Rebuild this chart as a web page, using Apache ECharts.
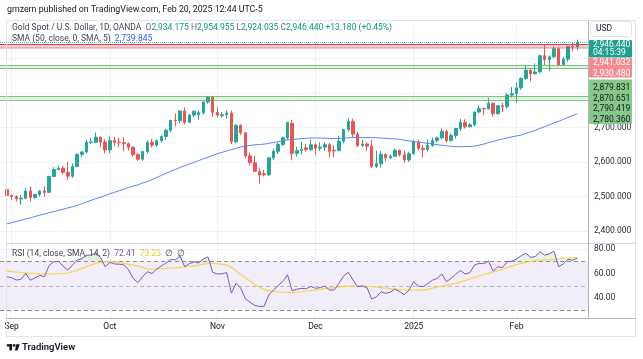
<!DOCTYPE html>
<html>
<head>
<meta charset="utf-8">
<script src="https://cdn.jsdelivr.net/npm/echarts@6.0.0/dist/echarts.min.js"></script>
<style>
html,body{margin:0;padding:0;background:#ffffff;}
#chart{width:643px;height:359px;}
</style>
</head>
<body>
<div id="chart"></div>
<script>
const FONT = 'Roboto, "Noto Sans", "Liberation Sans", sans-serif';
const TXT = '#131722';
const UP = '#26a69a', DOWN = '#ef5350';

// ---------- data ----------
const padBefore = ['2024-08-29'];
const padAfter = ['2025-02-21', '2025-02-24'];
const tradingDays = [
'2024-08-30',
'2024-09-02','2024-09-03','2024-09-04','2024-09-05','2024-09-06',
'2024-09-09','2024-09-10','2024-09-11','2024-09-12','2024-09-13',
'2024-09-16','2024-09-17','2024-09-18','2024-09-19','2024-09-20',
'2024-09-23','2024-09-24','2024-09-25','2024-09-26','2024-09-27',
'2024-09-30','2024-10-01','2024-10-02','2024-10-03','2024-10-04',
'2024-10-07','2024-10-08','2024-10-09','2024-10-10','2024-10-11',
'2024-10-14','2024-10-15','2024-10-16','2024-10-17','2024-10-18',
'2024-10-21','2024-10-22','2024-10-23','2024-10-24','2024-10-25',
'2024-10-28','2024-10-29','2024-10-30','2024-10-31','2024-11-01',
'2024-11-04','2024-11-05','2024-11-06','2024-11-07','2024-11-08',
'2024-11-11','2024-11-12','2024-11-13','2024-11-14','2024-11-15',
'2024-11-18','2024-11-19','2024-11-20','2024-11-21','2024-11-22',
'2024-11-25','2024-11-26','2024-11-27','2024-11-28','2024-11-29',
'2024-12-02','2024-12-03','2024-12-04','2024-12-05','2024-12-06',
'2024-12-09','2024-12-10','2024-12-11','2024-12-12','2024-12-13',
'2024-12-16','2024-12-17','2024-12-18','2024-12-19','2024-12-20',
'2024-12-23','2024-12-24','2024-12-26','2024-12-27',
'2024-12-30','2024-12-31','2025-01-02','2025-01-03',
'2025-01-06','2025-01-07','2025-01-08','2025-01-09','2025-01-10',
'2025-01-13','2025-01-14','2025-01-15','2025-01-16','2025-01-17',
'2025-01-20','2025-01-21','2025-01-22','2025-01-23','2025-01-24',
'2025-01-27','2025-01-28','2025-01-29','2025-01-30','2025-01-31',
'2025-02-03','2025-02-04','2025-02-05','2025-02-06','2025-02-07',
'2025-02-10','2025-02-11','2025-02-12','2025-02-13','2025-02-14',
'2025-02-17','2025-02-18','2025-02-19','2025-02-20'
];

const opens = [
2520,2503,2500,2493,2495,2516,2497,2506,2516,2512,
2558,2578,2582,2570,2559,2587,2622,2629,2657,2657,
2672,2658,2635,2662,2657,2656,2653,2643,2622,2608,
2630,2657,2649,2662,2674,2692,2721,2720,2748,2715,
2736,2737,2743,2774,2788,2744,2734,2737,2742,2659,
2706,2685,2618,2598,2572,2566,2563,2612,2631,2651,
2670,2712,2625,2633,2641,2636,2650,2640,2643,2650,
2634,2633,2660,2694,2718,2681,2648,2652,2646,2587,
2595,2622,2612,2617,2634,2621,2606,2624,2658,2640,
2636,2648,2662,2670,2689,2662,2677,2697,2715,2702,
2708,2745,2755,2754,2770,2740,2763,2760,2794,2798,
2815,2842,2866,2856,2861,2908,2897,2905,2928,2882,
2898,2935,2934.175
];
const highs = [
2524,2506,2503,2504,2524,2529,2507,2518,2529,2560,
2585,2590,2589,2600,2596,2625,2632,2664,2670,2685,
2674,2666,2674,2672,2670,2672,2657,2646,2625,2633,
2661,2666,2665,2677,2696,2722,2740,2749,2758,2739,
2749,2749,2774,2790,2790,2758,2745,2750,2749,2710,
2709,2687,2627,2618,2581,2577,2615,2639,2656,2674,
2716,2722,2644,2658,2652,2665,2654,2657,2657,2655,
2649,2676,2696,2726,2725,2687,2664,2657,2664,2633,
2632,2625,2622,2639,2636,2634,2630,2664,2665,2649,
2665,2671,2674,2697,2693,2683,2699,2725,2724,2713,
2746,2763,2758,2786,2773,2765,2771,2799,2817,2831,
2845,2882,2871,2886,2911,2942,2909,2935,2932,2905,
2938,2947,2954.955
];
const lows = [
2493,2489,2486,2476,2492,2485,2493,2500,2500,2510,
2556,2576,2563,2547,2554,2585,2614,2624,2652,2655,
2643,2625,2625,2646,2643,2631,2633,2615,2604,2603,
2625,2642,2644,2656,2664,2686,2703,2712,2709,2714,
2730,2722,2738,2769,2730,2730,2728,2725,2652,2655,
2678,2610,2590,2572,2537,2558,2560,2606,2623,2646,
2665,2605,2615,2622,2630,2632,2621,2632,2632,2614,
2613,2631,2654,2688,2672,2644,2643,2631,2583,2583,
2584,2601,2609,2614,2616,2597,2600,2622,2633,2614,
2630,2644,2656,2665,2656,2660,2668,2690,2697,2700,
2703,2741,2736,2752,2731,2737,2745,2755,2787,2772,
2809,2838,2834,2853,2859,2880,2864,2900,2877,2880,
2890,2922,2924.035
];
const closes = [
2503,2500,2493,2495,2516,2497,2506,2516,2512,2558,
2578,2582,2570,2559,2587,2622,2629,2657,2658,2672,
2658,2635,2662,2657,2656,2653,2643,2622,2608,2630,
2657,2649,2662,2674,2692,2721,2720,2748,2715,2736,
2747,2743,2774,2788,2744,2736,2737,2742,2659,2706,
2685,2618,2598,2573,2562,2563,2612,2631,2651,2670,
2715,2625,2633,2637,2636,2650,2640,2643,2650,2631,
2632,2660,2694,2718,2681,2648,2652,2646,2587,2595,
2622,2612,2617,2634,2621,2606,2624,2658,2640,2636,
2648,2662,2670,2689,2662,2677,2697,2715,2702,2708,
2745,2755,2754,2770,2740,2763,2760,2794,2798,2815,
2842,2866,2856,2861,2908,2897,2905,2928,2882,2898,
2935,2933.26,2946.44
];
const sma50 = [
2421,2424,2428,2431,2435,2438,2442,2446,2449,2453,
2456,2460,2463,2467,2470,2474,2479,2484,2489,2494,
2498,2503,2508,2512,2517,2521,2526,2530,2534,2539,
2543,2549,2555,2561,2567,2573,2578,2584,2589,2594,
2599,2604,2609,2614,2619,2624,2628,2632,2636,2640,
2643.7,2646,2648.1,2649.7,2650.6,2651.9,2654.1,2656.4,2659.1,2661.4,
2664.1,2665,2666.3,2667.8,2668.8,2669.4,2669.6,2669.3,2669.2,2668.4,
2667.8,2668.3,2669,2670.2,2670.7,2670.6,2670.7,2671.2,2670.8,2670.1,
2669.4,2668.6,2667.7,2666.9,2665.5,2663.2,2661.3,2659.5,2658,2656,
2654,2652.4,2650.3,2648.3,2646.7,2645.5,2644.7,2644.1,2645,2645,
2646.2,2648.9,2652,2656,2659.5,2663.5,2666.5,2669.8,2672.7,2675.6,
2678.1,2683,2687.4,2691.9,2697.4,2702.3,2707.6,2713.3,2717.9,2723.3,
2729.3,2734.8,2739.845
];
const rsi = [
57.4,56.5,54.7,55.2,60.1,54.5,56.5,58.5,57.4,66.5,
69.5,70.0,66.0,62.8,66.9,71.0,72.0,75.0,75.0,77.0,
73.0,65.6,69.0,67.8,67.6,67.0,63.0,56.0,52.5,57.4,
61.5,60.0,63.5,66.1,68.5,71.6,71.2,74.3,65.6,68.0,
69.5,68.6,72.0,73.5,61.0,59.6,59.8,60.7,44.0,52.0,
48.0,39.5,36.5,34.0,33.0,33.3,42.5,46.5,50.0,53.5,
59.0,46.0,47.2,47.8,47.5,49.5,47.9,48.5,49.8,46.5,
46.6,52.0,58.0,61.0,54.7,49.2,49.8,48.5,39.2,40.8,
45.1,43.8,44.8,47.3,45.1,42.8,46.5,53.3,49.8,49.2,
51.8,54.5,56.0,59.6,53.3,56.1,59.5,62.5,59.6,60.6,
66.9,68.3,68.0,70.0,62.0,65.5,64.8,69.5,70.0,72.0,
74.5,76.5,73.2,73.8,77.8,75.0,75.9,78.4,65.6,67.8,
71.6,71.0,72.41
];
const rsiMa = [
62.0,61.6,61.2,60.8,60.5,60.2,59.9,59.7,59.6,59.6,
59.7,59.8,60.0,60.3,61.5,62.8,64.2,65.6,67.0,68.3,
69.1,69.4,69.6,69.3,68.8,68.2,67.5,66.9,66.0,65.0,
63.8,63.4,63.5,63.8,64.2,64.5,64.7,65.0,65.3,65.7,
66.3,66.9,67.6,68.2,68.3,68.0,67.5,66.9,65.0,62.0,
59.2,56.5,53.8,51.0,48.8,47.0,46.0,45.3,45.0,44.8,
44.7,44.6,44.8,45.1,45.5,46.0,46.5,47.0,47.6,48.0,
48.5,49.0,49.5,49.8,49.9,49.9,49.8,49.6,49.3,48.9,
48.5,48.1,47.7,47.2,46.9,46.7,46.5,46.4,46.4,46.5,
47.0,48.0,49.0,49.8,50.5,51.2,52.0,53.1,54.2,55.5,
56.8,58.0,59.2,60.1,61.2,62.3,63.5,64.8,66.0,67.2,
68.3,69.1,69.8,70.5,70.8,71.1,71.3,71.6,71.9,72.3,
72.6,72.9,73.23
];
const monthLabels = {
  '2024-09-02':'Sep','2024-10-01':'Oct','2024-11-01':'Nov',
  '2024-12-02':'Dec','2025-01-02':'2025','2025-02-03':'Feb'
};
const priceTicks = [2400, 2500, 2600, 2700];
const priceGridLevels = [2400, 2500, 2600, 2700, 2800, 2900];
const rsiTicks = [40, 60, 80];
const resistanceZone = [2930.480, 2941.032];
const supportZones = [[2870.651, 2879.831], [2780.360, 2790.419]];
const rsiBands = [70, 50, 30];
const countdown = '04:15:39';

// ---------- helpers ----------
const nf = (v, d) => v.toLocaleString('en-US', {minimumFractionDigits: d, maximumFractionDigits: d});
const categories = padBefore.concat(tradingDays, padAfter);
const lead = padBefore.map(() => '-');
const candleData = lead.concat(tradingDays.map((d, i) => [opens[i], closes[i], lows[i], highs[i]]));
const monthKeys = Object.keys(monthLabels);
const priceMin = 2300, priceMax = 3000, rsiMin = 20, rsiMax = 90;
const pricePane = [2365.2, 3000], rsiPane = [23.7, 84.9];
const lastIdx = closes.length - 1;
const lastClose = closes[lastIdx];
const chg = closes[lastIdx] - closes[lastIdx - 1];
const chgPct = chg / closes[lastIdx - 1] * 100;
const sign = chg >= 0 ? '+' : '';

const ML = {silent: true, symbol: ['none', 'none'], label: {show: false}, emphasis: {disabled: true}, animation: false};

const zoneLine = (v, color, w) => ({yAxis: v, lineStyle: {color: color, width: w, type: 'solid'}});

const option = {
  animation: false,
  backgroundColor: '#ffffff',
  textStyle: {fontFamily: FONT},
  grid: [
    {left: 0, top: 24, width: 589, height: 241.5},
    {left: 0, top: 236.75, width: 589, height: 85.75}
  ],
  xAxis: [
    {type: 'category', gridIndex: 0, data: categories, boundaryGap: true, show: false},
    {type: 'category', gridIndex: 1, data: categories, boundaryGap: true,
     axisLine: {show: false}, axisTick: {show: false}, splitLine: {show: false},
     axisLabel: {interval: (i, v) => monthLabels.hasOwnProperty(v), formatter: v => monthLabels[v] || '',
                 color: TXT, fontSize: 8.5, fontFamily: FONT, margin: 0}}
  ],
  yAxis: [
    {type: 'value', gridIndex: 0, position: 'right', min: priceMin, max: priceMax, interval: 100,
     axisLine: {show: false}, axisTick: {show: false}, splitLine: {show: false},
     axisLabel: {margin: 5, color: '#2a2e39', fontSize: 8.5, fontFamily: FONT,
                 formatter: v => priceTicks.includes(v) ? nf(v, 3) : ''}},
    {type: 'value', gridIndex: 1, position: 'right', min: rsiMin, max: rsiMax, interval: 10,
     axisLine: {show: false}, axisTick: {show: false}, splitLine: {show: false},
     axisLabel: {margin: 5, color: '#2a2e39', fontSize: 8.5, fontFamily: FONT,
                 formatter: v => rsiTicks.includes(v) ? v.toFixed(2) : ''}}
  ],
  series: [
    {
      name: 'SMA 50', type: 'line', xAxisIndex: 0, yAxisIndex: 0, data: lead.concat(sma50),
      showSymbol: false, symbol: 'none', z: 3, silent: true,
      lineStyle: {color: '#5a85ff', width: 1},
      markLine: Object.assign({}, ML, {z: 1,
        lineStyle: {color: '#eef0f5', width: 1, type: 'solid'},
        data: priceGridLevels.map(v => ({yAxis: v})).concat(
          monthKeys.map(d => [{coord: [d, pricePane[0]]}, {coord: [d, pricePane[1]]}]))
      })
    },
    {
      name: 'XAUUSD', type: 'candlestick', xAxisIndex: 0, yAxisIndex: 0, data: candleData,
      barWidth: 3, z: 2, silent: true,
      itemStyle: {color: UP, color0: DOWN, borderColor: UP, borderColor0: DOWN, borderWidth: 1},
      markArea: {silent: true, z: 4, label: {show: false},
        data: [
          [{yAxis: resistanceZone[0], itemStyle: {color: 'rgba(242,54,69,0.2)'}}, {yAxis: resistanceZone[1]}],
          [{yAxis: supportZones[0][0], itemStyle: {color: 'rgba(76,175,80,0.16)'}}, {yAxis: supportZones[0][1]}],
          [{yAxis: supportZones[1][0], itemStyle: {color: 'rgba(76,175,80,0.16)'}}, {yAxis: supportZones[1][1]}]
        ]},
      markLine: Object.assign({}, ML, {z: 5,
        data: [
          zoneLine(resistanceZone[1], '#f23645', 1),
          zoneLine(resistanceZone[0], 'rgba(242,54,69,0.4)', 1.5),
          zoneLine(supportZones[0][0], 'rgba(76,175,80,0.7)', 1),
          zoneLine(supportZones[0][1], 'rgba(76,175,80,0.7)', 1),
          zoneLine(supportZones[1][0], 'rgba(76,175,80,0.7)', 1),
          zoneLine(supportZones[1][1], 'rgba(76,175,80,0.7)', 1),
          {yAxis: lastClose, lineStyle: {color: UP, width: 1, type: 'dotted', opacity: 0.8}}
        ]})
    },
    {
      name: 'obBase', type: 'line', xAxisIndex: 1, yAxisIndex: 1, stack: 'ob', silent: true,
      data: lead.concat(rsi.map(() => rsiBands[0])), symbol: 'none', showSymbol: false,
      lineStyle: {opacity: 0}, z: 1
    },
    {
      name: 'obFill', type: 'line', xAxisIndex: 1, yAxisIndex: 1, stack: 'ob', silent: true,
      data: lead.concat(rsi.map(v => Math.max(v - rsiBands[0], 0))), symbol: 'none', showSymbol: false,
      lineStyle: {opacity: 0}, areaStyle: {color: 'rgba(76,175,80,0.22)'}, z: 1
    },
    {
      name: 'RSI', type: 'line', xAxisIndex: 1, yAxisIndex: 1, data: lead.concat(rsi),
      symbol: 'none', showSymbol: false, silent: true, z: 4,
      lineStyle: {color: '#7e57c2', width: 1},
      markArea: {silent: true, z: 0, label: {show: false},
        data: [[{yAxis: rsiBands[2], itemStyle: {color: 'rgba(126,87,194,0.1)'}}, {yAxis: rsiBands[0]}]]}
    },
    {
      name: 'RSI MA', type: 'line', xAxisIndex: 1, yAxisIndex: 1, data: lead.concat(rsiMa),
      symbol: 'none', showSymbol: false, silent: true, z: 3,
      lineStyle: {color: '#f7d54a', width: 1.2},
      markLine: Object.assign({}, ML, {z: 1,
        data: rsiTicks.map(v => ({yAxis: v, lineStyle: {color: '#eef0f5', width: 1, type: 'solid'}}))
          .concat(monthKeys.map(d => [{coord: [d, rsiPane[0]], lineStyle: {color: '#eef0f5', width: 1, type: 'solid'}}, {coord: [d, rsiPane[1]]}]))
          .concat([
            {yAxis: rsiBands[0], lineStyle: {color: '#8a8d96', width: 1, type: [4, 3]}},
            {yAxis: rsiBands[1], lineStyle: {color: 'rgba(138,141,150,0.55)', width: 1, type: [4, 3]}},
            {yAxis: rsiBands[2], lineStyle: {color: '#8a8d96', width: 1, type: [4, 3]}}
          ])
      })
    }
  ],
  graphic: [
    {type: 'rect', silent: true, z: 50, shape: {x: 6.5, y: 20.5, width: 629, height: 316},
     style: {fill: 'none', stroke: '#e0e3eb', lineWidth: 1}},
    {type: 'line', silent: true, z: 50, shape: {x1: 6.5, y1: 243.5, x2: 635.5, y2: 243.5},
     style: {stroke: '#d1d4dc', lineWidth: 1}},
    {type: 'line', silent: true, z: 50, shape: {x1: 6.5, y1: 318.5, x2: 635.5, y2: 318.5},
     style: {stroke: '#b2b5be', lineWidth: 1}},
    {type: 'line', silent: true, z: 50, shape: {x1: 588.5, y1: 20.5, x2: 588.5, y2: 318.5},
     style: {stroke: '#b2b5be', lineWidth: 1}},
    {type: 'text', silent: true, z: 100, x: 7, y: 10,
     style: {text: 'gmzern published on TradingView.com, Feb 20, 2025 12:44 UTC-5', fill: TXT,
             fontSize: 8.8, fontFamily: FONT, verticalAlign: 'middle'}},
    {type: 'text', silent: true, z: 100, x: 12, y: 27.5,
     style: {
       text: '{n|Gold Spot / U.S. Dollar, 1D, OANDA}  {l|O}{v|' + nf(opens[lastIdx], 3) + '} {l|H}{v|' + nf(highs[lastIdx], 3) +
             '} {l|L}{v|' + nf(lows[lastIdx], 3) + '} {l|C}{v|' + nf(closes[lastIdx], 3) + '} {v|' + sign + nf(chg, 3) +
             ' (' + sign + chgPct.toFixed(2) + '%)}',
       fontSize: 8.5, fontFamily: FONT, fill: '#434651', verticalAlign: 'middle',
       rich: {
         n: {fill: '#434651', fontSize: 8.5, fontFamily: FONT},
         l: {fill: '#6a6d78', fontSize: 8.5, fontFamily: FONT},
         v: {fill: '#089981', fontSize: 8.5, fontFamily: FONT}
       }}},
    {type: 'text', silent: true, z: 100, x: 12, y: 39,
     style: {
       text: '{n|SMA (50, close, 0, SMA, 5)}  {b|' + nf(sma50[lastIdx], 3) + '}',
       fontSize: 8.5, fontFamily: FONT, fill: '#434651', verticalAlign: 'middle',
       rich: {
         n: {fill: '#434651', fontSize: 8.5, fontFamily: FONT},
         b: {fill: '#2962ff', fontSize: 8.5, fontFamily: FONT}
       }}},
    {type: 'text', silent: true, z: 100, x: 12, y: 253.5,
     style: {
       text: '{n|RSI (14, close, SMA, 14, 2)}  {p|' + rsi[lastIdx].toFixed(2) + '}  {y|' + rsiMa[lastIdx].toFixed(2) + '}  {n|∅  ∅}',
       fontSize: 8.5, fontFamily: FONT, fill: '#434651', verticalAlign: 'middle',
       rich: {
         n: {fill: '#434651', fontSize: 8.5, fontFamily: FONT},
         p: {fill: '#7e57c2', fontSize: 8.5, fontFamily: FONT},
         y: {fill: '#e8c532', fontSize: 8.5, fontFamily: FONT}
       }}},
    {type: 'rect', silent: true, z: 100, shape: {x: 590.5, y: 21.5, width: 41, height: 15, r: 2},
     style: {fill: '#ffffff', stroke: '#e0e3eb', lineWidth: 1}},
    {type: 'text', silent: true, z: 101, x: 596, y: 29.2,
     style: {text: 'USD', fill: TXT, fontSize: 8.5, fontFamily: FONT, verticalAlign: 'middle'}},
    {type: 'rect', silent: true, z: 100, shape: {x: 6.8, y: 344.2, width: 5.4, height: 2.3}, style: {fill: TXT}},
    {type: 'rect', silent: true, z: 100, shape: {x: 9.4, y: 344.2, width: 2.6, height: 6.2}, style: {fill: TXT}},
    {type: 'circle', silent: true, z: 100, shape: {cx: 14.2, cy: 345.4, r: 1.3}, style: {fill: TXT}},
    {type: 'polygon', silent: true, z: 100, shape: {points: [[16.3, 344.2], [19.8, 344.2], [17.4, 350.4], [14.9, 350.4]]}, style: {fill: TXT}},
    {type: 'text', silent: true, z: 100, x: 22, y: 347.5,
     style: {text: 'TradingView', fill: TXT, fontSize: 9.5, fontWeight: 600, fontFamily: FONT, verticalAlign: 'middle'}}
  ]
};

const chart = echarts.init(document.getElementById('chart'), null, {renderer: 'canvas'});
chart.setOption(option);

// price tags on the right price scale, stacked below the last price
const yLast = chart.convertToPixel({yAxisIndex: 0}, lastClose);
const tagX = 589, tagW = 43, tagTextX = 593;
const tags = [];
function addBox(y, h, fill) {
  tags.push({type: 'rect', silent: true, z: 110, shape: {x: tagX, y: y, width: tagW, height: h, r: 1}, style: {fill: fill}});
}
function addLabel(y, text, color) {
  tags.push({type: 'text', silent: true, z: 111, x: tagTextX, y: y,
    style: {text: text, fill: color, fontSize: 8.5, fontFamily: FONT, verticalAlign: 'middle'}});
}
let tagTop = yLast - 2.5;
addBox(tagTop, 17.5, '#22a08f');
addLabel(tagTop + 4.5, nf(lastClose, 3), '#ffffff');
addLabel(tagTop + 12.5, countdown, '#ffffff');
tagTop += 18;
addBox(tagTop, 19.5, '#f58b8f');
addLabel(tagTop + 5, nf(resistanceZone[1], 3), '#ffffff');
addLabel(tagTop + 15.5, nf(resistanceZone[0], 3), '#ffffff');
tagTop += 21.5;
addBox(tagTop, 44.5, '#86c98a');
const greens = [supportZones[0][1], supportZones[0][0], supportZones[1][1], supportZones[1][0]];
greens.forEach((v, i) => addLabel(tagTop + 8.8 + i * 10.4, nf(v, 3), TXT));
chart.setOption({graphic: option.graphic.concat(tags)});
</script>
</body>
</html>
